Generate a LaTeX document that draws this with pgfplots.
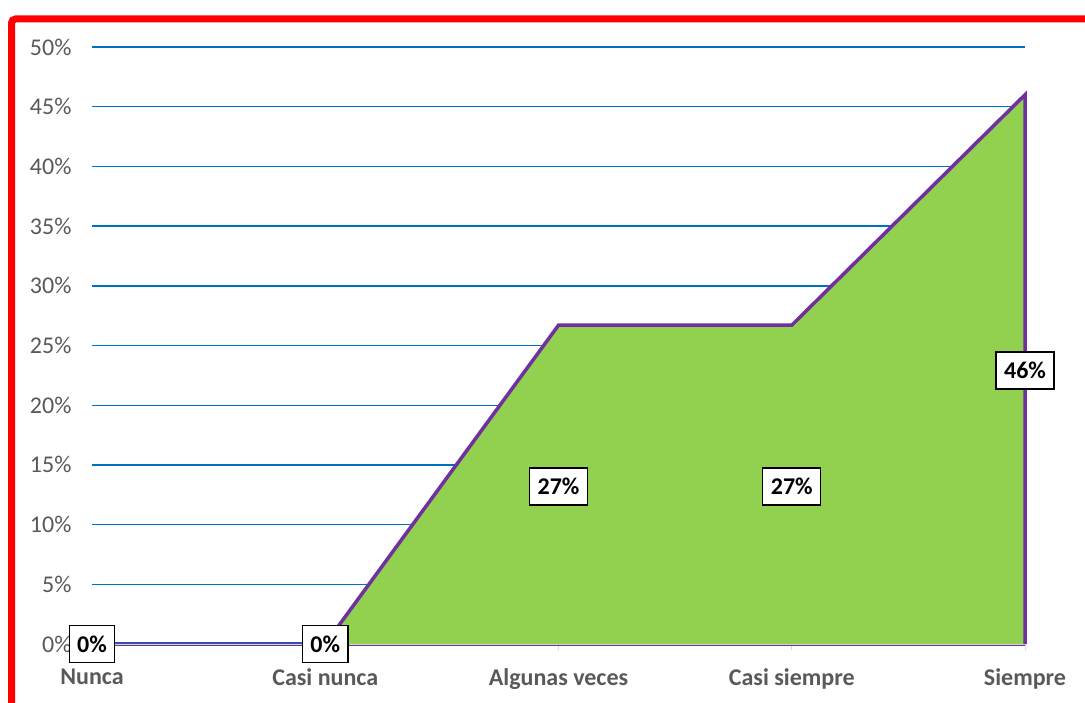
\documentclass[border=0pt]{standalone}
\usepackage{pgfplots}
\pgfplotsset{compat=1.18}
\usepackage{fontspec}
\setmainfont{Carlito}
\definecolor{gridblue}{HTML}{0070C0}
\definecolor{areagreen}{HTML}{92D050}
\definecolor{linepurple}{HTML}{7030A0}
\definecolor{ticklab}{HTML}{595959}
\definecolor{axisgray}{HTML}{D9D9D9}
\begin{document}
\begin{tikzpicture}[x=1pt,y=1pt]
\useasboundingbox (0,0) rectangle (1085,702);
\draw[red, line width=7pt, rounded corners=4pt] (11.5,-20) -- (11.5,683) -- (1110,683);
\begin{axis}[
  at={(92pt,58pt)}, anchor=south west,
  scale only axis, width=933pt, height=597pt,
  xmin=0, xmax=4, ymin=0, ymax=50,
  clip=false,
  axis x line*=bottom, axis y line*=left,
  y axis line style={draw=none},
  x axis line style={axisgray, line width=1pt, -},
  ytick={0,5,...,50},
  yticklabel={\pgfmathprintnumber[assume math mode=true]{\tick}\%},
  yticklabel style={font=\fontsize{24}{28}\selectfont, text=ticklab, xshift=-11pt},
  ytick style={draw=none},
  ymajorgrids, grid style={gridblue, line width=1.4pt},
  xtick={0,1,2,3,4},
  xticklabels={Nunca, Casi nunca, Algunas veces, Casi siempre, Siempre},
  xticklabel style={font=\bfseries\fontsize{24}{28}\selectfont, text=ticklab, yshift=-15pt},
  tick align=outside, major tick length=6pt,
  x tick style={axisgray, line width=1pt},
]
\addplot[fill=areagreen, draw=none] coordinates {(0,0)(1,0)(2,26.7)(3,26.7)(4,46)} \closedcycle;
\addplot[linepurple, line width=1pt] coordinates {(0,-0.15)(4,-0.15)};
\addplot[linepurple, line width=1pt] coordinates {(0,0.15)(1,0.15)};
\addplot[linepurple, line width=3.5pt, line join=miter] coordinates {(0.97,0)(1,0)(2,26.7)(3,26.7)(4,46)(4,0)};
\addplot[draw=none, mark=none, nodes near coords={\pgfplotspointmeta\%}, point meta=explicit symbolic,
  nodes near coords style={anchor=center, fill=white, draw=black, line width=1.3pt, text=black,
    font=\bfseries\fontsize{24}{28}\selectfont, inner xsep=8pt, inner ysep=0pt,
    minimum height=37pt}]
  table[meta=lab] {
x y lab
0 0 0
1 0 0
2 13.2 27
3 13.2 27
4 22.9 46
};
\end{axis}
\end{tikzpicture}
\end{document}
